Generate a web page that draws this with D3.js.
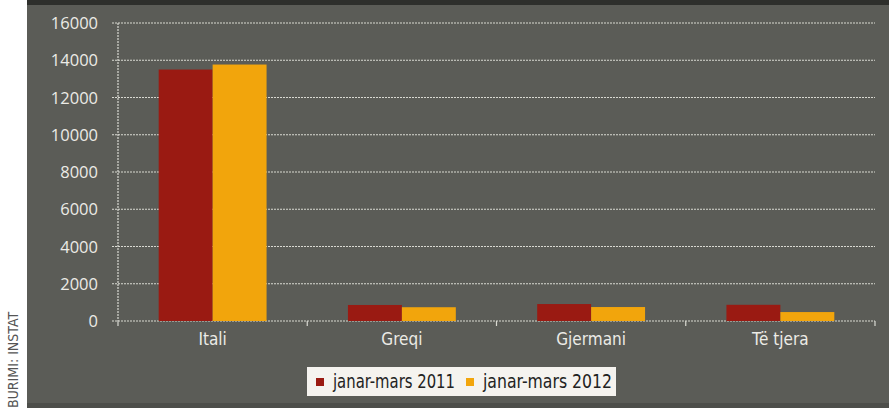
<!DOCTYPE html>
<html>
<head>
<meta charset="utf-8">
<script src="https://cdn.jsdelivr.net/npm/d3@7"></script>
<style>
body{margin:0;background:#fff;}
svg{display:block;}
</style>
</head>
<body>
<script>
//chart data
var categories=["Itali","Greqi","Gjermani","Të tjera"];
var series=["janar-mars 2011","janar-mars 2012"];
var values2011=[13500,860,910,870];
var values2012=[13770,740,750,480];
var yTicks=[0,2000,4000,6000,8000,10000,12000,14000,16000];
var colors=["#9a1a12","#f2a50c"];

var width=889,height=408;
var mLeft=118,mRight=875,mTop=23,mBottom=321;
var narrow="Liberation Sans Narrow, DejaVu Sans Condensed, Open Sans, sans-serif";

var svg=d3.select("body").append("svg")
	.attr("width",width)
	.attr("height",height);

//backgrounds
svg.append("rect").attr("x",27).attr("y",0).attr("width",width-27).attr("height",height).attr("fill","#5b5c57");
svg.append("rect").attr("x",27).attr("y",0).attr("width",width-27).attr("height",5).attr("fill","#2e2f2c");
svg.append("rect").attr("x",27).attr("y",403).attr("width",width-27).attr("height",5).attr("fill","#4d4e4a");

var x=d3.scaleBand().domain(categories).range([mLeft,mRight]).paddingInner(0.43).paddingOuter(0.215);
var xs=d3.scaleBand().domain(series).range([0,x.bandwidth()]);
var y=d3.scaleLinear().domain([0,16000]).range([mBottom,mTop]);

//grid
svg.append("g").selectAll("line").data(yTicks).enter().append("line")
	.attr("x1",mLeft-6).attr("x2",mRight)
	.attr("y1",function(d){return y(d);}).attr("y2",function(d){return y(d);})
	.attr("stroke","#d9d9d2").attr("stroke-width",1.2).attr("stroke-dasharray","2,1");
svg.append("line").attr("x1",mLeft).attr("x2",mLeft).attr("y1",mTop).attr("y2",mBottom)
	.attr("stroke","#d9d9d2").attr("stroke-width",1.2).attr("stroke-dasharray","2,1");

//category ticks
var step=(mRight-mLeft)/categories.length;
svg.append("g").selectAll("line").data(d3.range(categories.length+1)).enter().append("line")
	.attr("x1",function(d){return mLeft+d*step;}).attr("x2",function(d){return mLeft+d*step;})
	.attr("y1",mBottom).attr("y2",mBottom+5)
	.attr("stroke","#d9d9d2").attr("stroke-width",1.2);

//y labels
svg.append("g").selectAll("text").data(yTicks).enter().append("text")
	.attr("x",98).attr("y",function(d){return y(d)+6;})
	.attr("text-anchor","end")
	.attr("font-family","Open Sans, sans-serif").attr("font-size",16.5)
	.attr("fill","#ecebe6")
	.text(function(d){return d;});

//bars
var data=categories.map(function(c,i){return {cat:c,vals:[values2011[i],values2012[i]]};});
var grp=svg.append("g").selectAll("g").data(data).enter().append("g")
	.attr("transform",function(d){return "translate("+x(d.cat)+",0)";});
grp.selectAll("rect").data(function(d){return d.vals.map(function(v,i){return {s:series[i],v:v,i:i};});}).enter()
	.append("rect")
	.attr("x",function(d){return xs(d.s);})
	.attr("width",xs.bandwidth())
	.attr("y",function(d){return y(d.v);})
	.attr("height",function(d){return mBottom-y(d.v);})
	.attr("fill",function(d){return colors[d.i];});

//category labels
svg.append("g").selectAll("text").data(categories).enter().append("text")
	.attr("x",function(d){return x(d)+x.bandwidth()/2;})
	.attr("y",345)
	.attr("text-anchor","middle")
	.attr("font-family",narrow).attr("font-size",17)
	.attr("fill","#ecebe6")
	.text(function(d){return d;});

//legend
var leg=svg.append("g").attr("transform","translate(307,367)");
leg.append("rect").attr("width",309).attr("height",29).attr("fill","#f5f3ef");
var legX=[9,159];
var legW=[122,129];
leg.selectAll("rect.m").data(series).enter().append("rect").attr("class","m")
	.attr("x",function(d,i){return legX[i];}).attr("y",11).attr("width",8).attr("height",8)
	.attr("fill",function(d,i){return colors[i];});
leg.selectAll("text").data(series).enter().append("text")
	.attr("x",function(d,i){return legX[i]+17;}).attr("y",21)
	.attr("font-family",narrow).attr("font-size",19)
	.attr("textLength",function(d,i){return legW[i];})
	.attr("lengthAdjust","spacingAndGlyphs")
	.attr("fill","#222")
	.text(function(d){return d;});

//source
svg.append("text")
	.attr("transform","translate(18,408) rotate(-90)")
	.attr("font-family",narrow).attr("font-size",14)
	.attr("fill","#555")
	.text("BURIMI: INSTAT");
</script>
</body>
</html>
